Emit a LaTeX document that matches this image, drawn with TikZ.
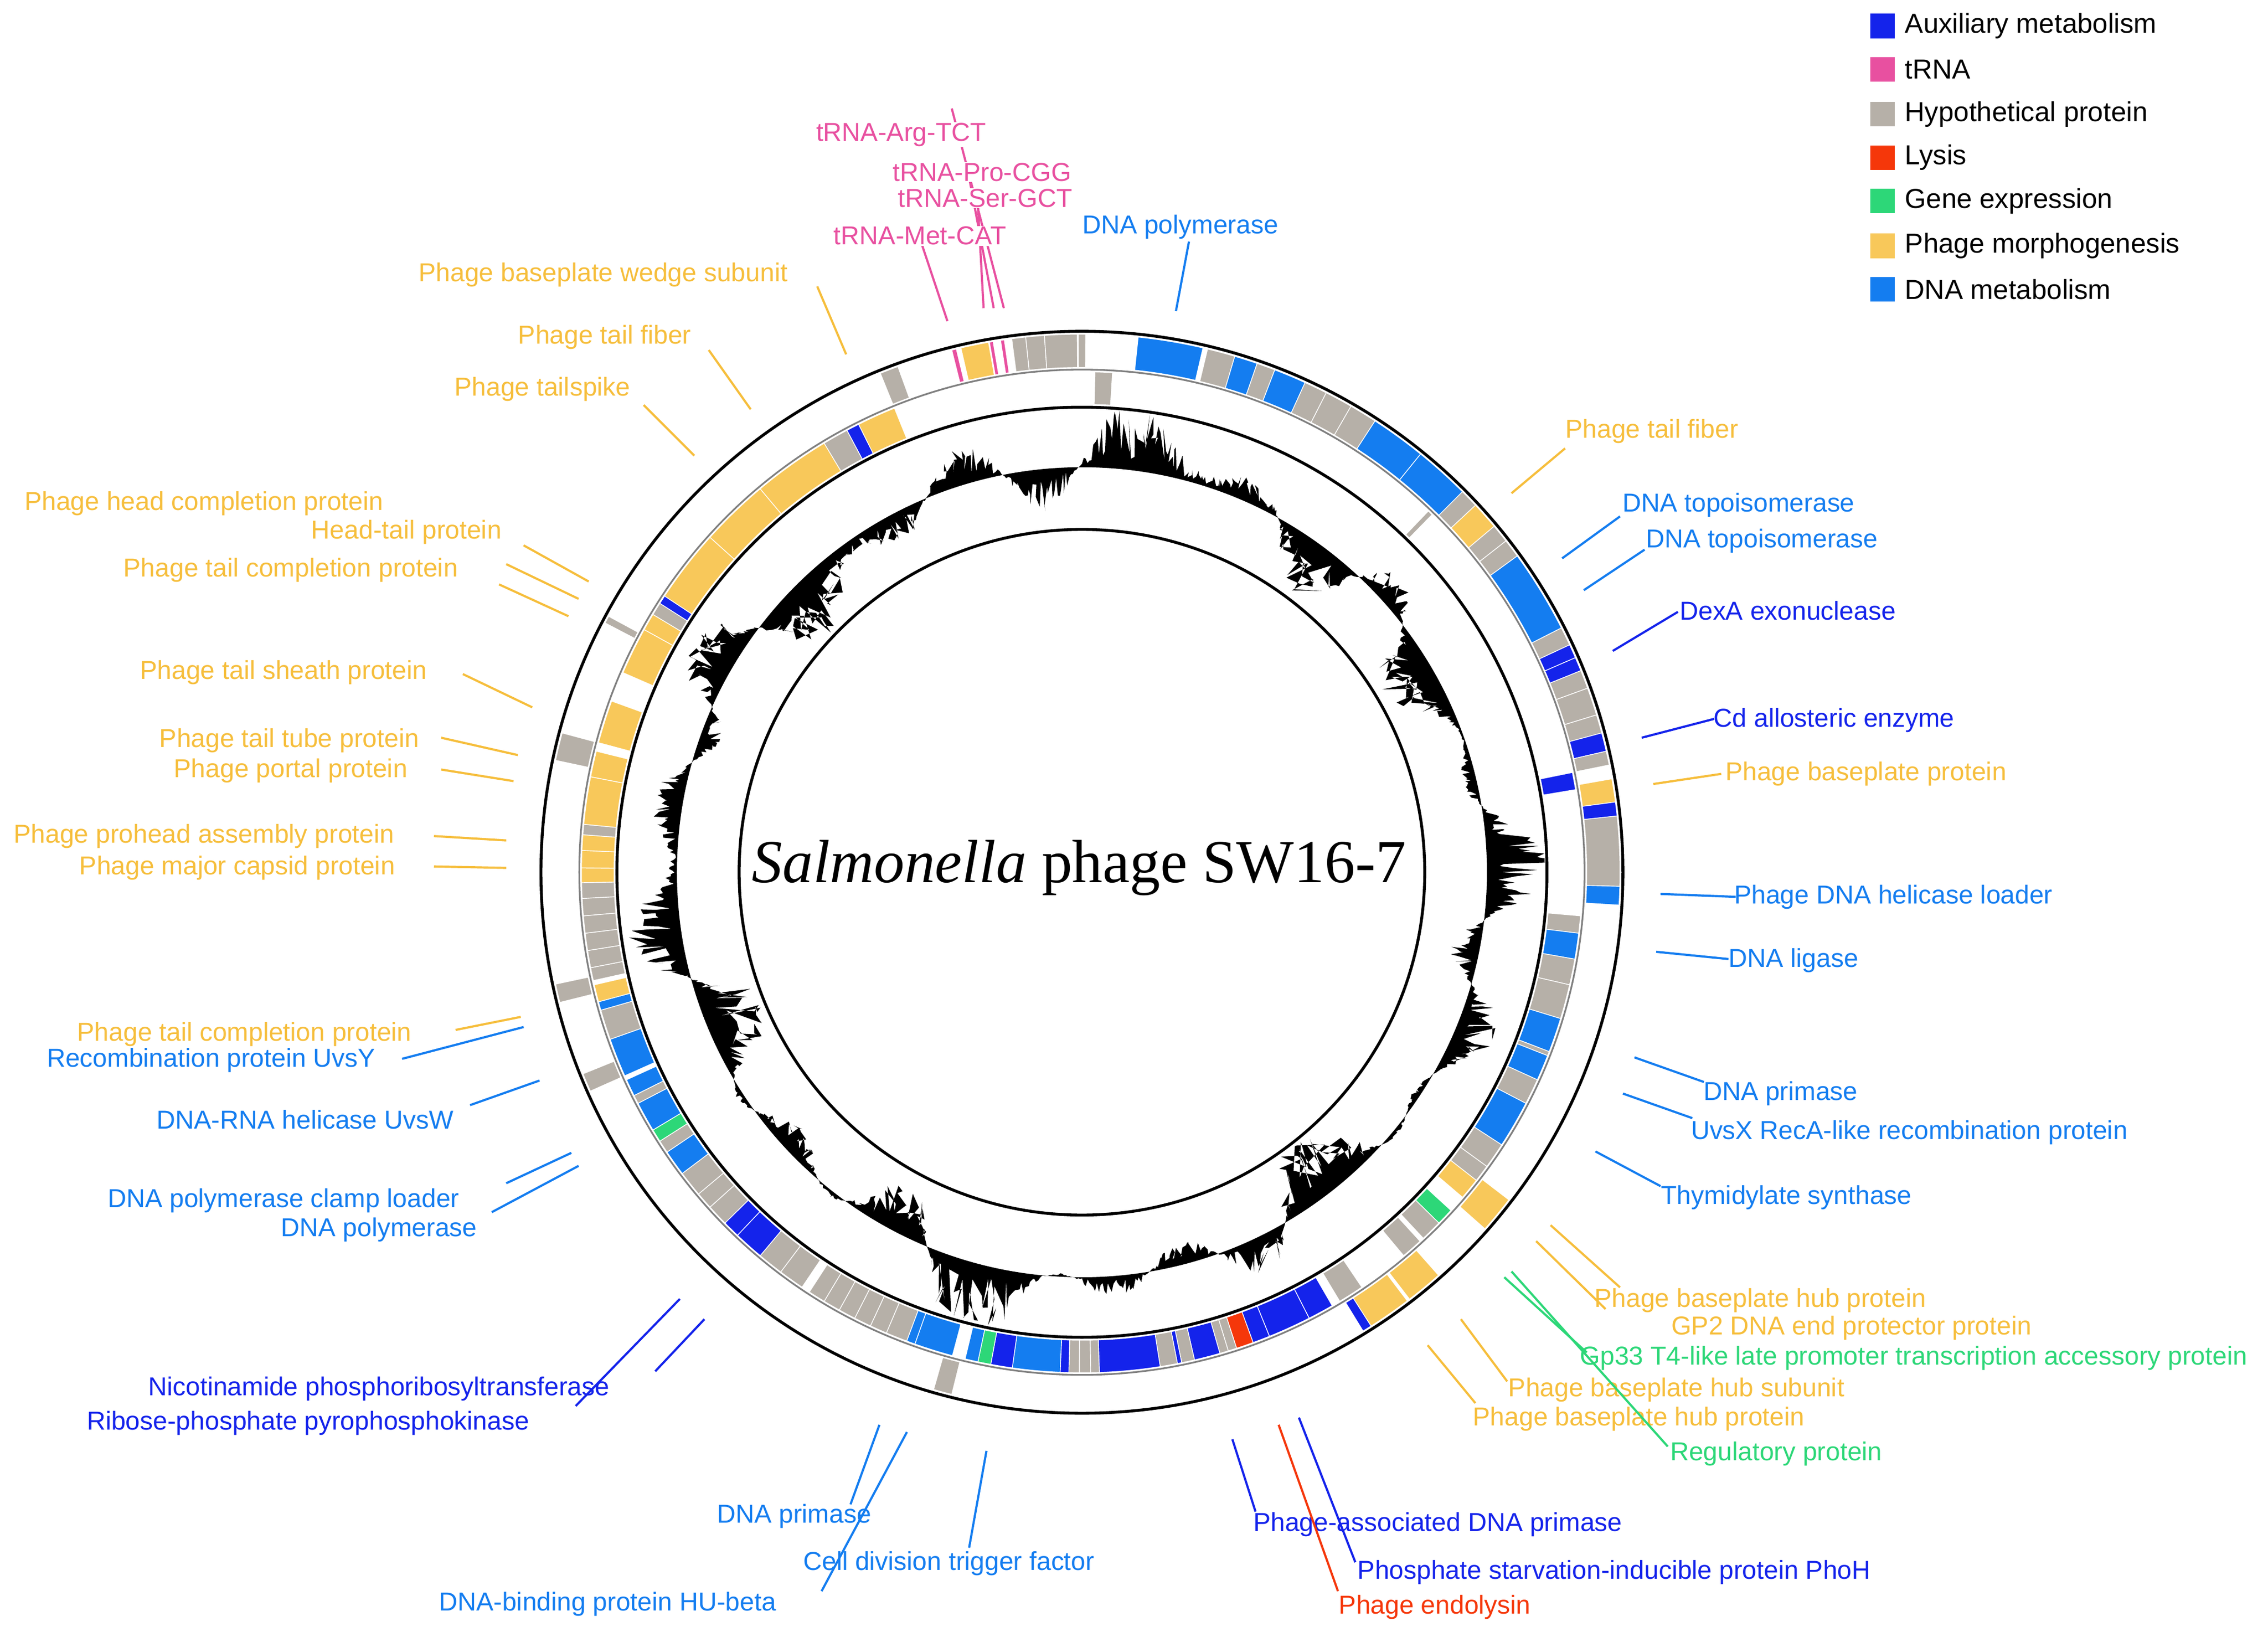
\documentclass[tikz,border=0pt]{standalone}
\usepackage{fontspec}
\setmainfont{Liberation Sans}
\newfontfamily\serifT{Liberation Serif}
\definecolor{aux}{RGB}{20,35,235}
\definecolor{trna}{RGB}{232,80,160}
\definecolor{hyp}{RGB}{182,176,168}
\definecolor{lys}{RGB}{245,55,10}
\definecolor{gex}{RGB}{45,215,120}
\definecolor{mor}{RGB}{248,200,90}
\definecolor{morT}{RGB}{246,190,60}
\definecolor{dna}{RGB}{20,125,240}
\tikzset{
  leader/.style={line width=1.5mm},
  lbl/.style={font=\fontsize{51}{56}\selectfont, inner sep=0.5mm},
  tlbl/.style={lbl, fill=white},
  legtxt/.style={font=\fontsize{54}{60}\selectfont, anchor=west, inner sep=0},
  legbox/.style={minimum size=17mm, inner sep=0},
}
\newcommand\gO[3]{\fill[#3,draw=white,line width=0.5mm] ({#1-90}:349) arc[start angle={#1-90},end angle={#2-90},radius=349] -- ({#2-90}:372) arc[start angle={#2-90},end angle={#1-90},radius=372] -- cycle;}
\newcommand\gI[3]{\fill[#3,draw=white,line width=0.5mm] ({#1-90}:323.5) arc[start angle={#1-90},end angle={#2-90},radius=323.5] -- ({#2-90}:346) arc[start angle={#2-90},end angle={#1-90},radius=346] -- cycle;}
\newcommand\lab[6]{\coordinate (#1a) at #3; \coordinate (#1b) at #4; \draw[leader,#2] (#1a) -- (#1b); \node[lbl,text=#2] (#1) at #5 {#6};}
\begin{document}
\begin{tikzpicture}[x=1mm,y=-1mm]
\useasboundingbox (0,0) rectangle (1568,1131.7);
\begin{scope}[shift={(748,603)}]
% GC skew
\pgfmathsetseed{7}
\fill[black,even odd rule] (0,0) circle[radius=280]
  plot[domain=0:359.7,samples=1400,variable=\t] ({\t-90}:{280+max(-40,min(40,(38*sin(7*\t+10)*sin(3*\t+40)+22*sin(17*\t))*(0.15+0.85*rnd)))}) -- cycle;
\draw[line width=2mm] (0,0) circle[radius=374];
\draw[line width=2mm] (0,0) circle[radius=321.5];
\draw[line width=2mm] (0,0) circle[radius=237];
\draw[line width=1.2mm, gray] (0,0) circle[radius=347.5];
% outer ring
\gO{346.0}{346.5}{trna}\gO{347}{350}{mor}\gO{350.1}{350.5}{trna}\gO{351.3}{351.7}{trna}
\gO{352.5}{354}{hyp}\gO{354}{356}{hyp}\gO{356}{359.5}{hyp}\gO{359.6}{360.4}{hyp}
\gO{6}{13}{dna}\gO{13.5}{16.5}{hyp}\gO{16.5}{19}{dna}\gO{19}{21}{hyp}\gO{21}{24.5}{dna}
\gO{24.5}{27}{hyp}\gO{27}{30}{hyp}\gO{30}{33}{hyp}\gO{33}{39}{dna}\gO{39}{45}{dna}
\gO{45}{47}{hyp}\gO{47}{50}{mor}\gO{50}{52}{hyp}\gO{52}{54}{hyp}\gO{54}{63}{dna}
\gO{63}{65}{hyp}\gO{65}{66.5}{aux}\gO{66.5}{68}{aux}\gO{68}{70}{hyp}\gO{70}{73}{hyp}\gO{73}{75}{hyp}
\gO{75}{77}{aux}\gO{77}{78.5}{hyp}\gO{80}{82.5}{mor}\gO{82.5}{84}{aux}\gO{84}{91.5}{hyp}\gO{91.5}{93.5}{dna}
\gO{127.5}{131.5}{mor}\gO{138.5}{142.5}{mor}\gO{142.8}{147.5}{mor}\gO{147.5}{148.5}{aux}
\gO{194}{196}{hyp}\gO{246}{248}{hyp}\gO{256}{258}{hyp}\gO{282}{285}{hyp}\gO{297.6}{298.4}{hyp}\gO{338}{340}{hyp}
% inner ring
\gI{1.5}{3.5}{hyp}\gI{43.8}{44.4}{hyp}\gI{78.5}{80.5}{aux}
\gI{95}{97}{hyp}\gI{97}{100}{dna}\gI{100}{103}{hyp}\gI{103}{107}{hyp}\gI{107}{111}{dna}\gI{111}{111.5}{hyp}
\gI{111.5}{114.5}{dna}\gI{114.5}{117.5}{hyp}\gI{117.5}{123}{dna}\gI{123}{126}{hyp}\gI{126}{128}{hyp}\gI{128}{130.5}{mor}
\gI{132.5}{134.5}{gex}\gI{134.5}{137}{hyp}\gI{137.5}{140}{hyp}
\gI{146}{149}{hyp}\gI{150}{153}{aux}\gI{153}{158}{aux}\gI{158}{160}{aux}\gI{160}{162}{lys}\gI{162}{163}{hyp}\gI{163}{164}{hyp}
\gI{164}{167}{aux}\gI{167}{168.5}{hyp}\gI{168.5}{169}{aux}\gI{169}{171}{hyp}\gI{171}{178}{aux}\gI{178}{179}{hyp}\gI{179}{180.3}{hyp}
\gI{180.3}{181.5}{hyp}\gI{181.5}{182.5}{aux}\gI{182.5}{188}{dna}\gI{188}{190.5}{aux}\gI{190.5}{192}{gex}\gI{192}{193.5}{dna}
\gI{195}{199.5}{dna}\gI{199.5}{200.5}{dna}\gI{200.5}{203}{hyp}\gI{203}{205}{hyp}\gI{205}{207}{hyp}\gI{207}{209}{hyp}\gI{209}{211}{hyp}\gI{211}{213}{hyp}
\gI{214}{217}{hyp}\gI{217}{220}{hyp}\gI{220}{223.5}{aux}\gI{223.5}{225.5}{aux}\gI{225.5}{228}{hyp}\gI{228}{230}{hyp}\gI{230}{233}{hyp}
\gI{233}{236}{dna}\gI{236}{237.5}{hyp}\gI{237.5}{239}{gex}\gI{239}{242.5}{dna}\gI{242.5}{243.5}{hyp}\gI{243.5}{245.5}{dna}
\gI{246}{250.5}{dna}\gI{250.5}{254}{hyp}\gI{254}{255}{dna}\gI{255}{257}{mor}\gI{257.5}{259}{hyp}\gI{259}{261}{hyp}\gI{261}{263}{hyp}
\gI{263}{265}{hyp}\gI{265}{267}{hyp}\gI{267}{268.8}{hyp}\gI{268.8}{270.5}{mor}\gI{270.5}{272.5}{mor}\gI{272.5}{274.3}{mor}\gI{274.3}{275.5}{hyp}
\gI{275.5}{281}{mor}\gI{281}{284}{mor}\gI{285}{290}{mor}\gI{293.5}{299}{mor}\gI{299}{301}{mor}\gI{301}{302.5}{hyp}\gI{302.5}{303.5}{aux}
\gI{303.5}{312}{mor}\gI{312}{320}{mor}\gI{320}{329}{mor}\gI{329}{332}{hyp}\gI{332}{333.5}{aux}\gI{333.5}{338}{mor}
\end{scope}
\node (title) at (746,600) {\serifT\fontsize{120}{130}\selectfont\textit{Salmonella} phage SW16-7};
% tRNA labels
\coordinate (ta1) at (658,75); \coordinate (ta2) at (694,213); \draw[leader,trna] (ta1)--(ta2);
\coordinate (tb1) at (668,112); \coordinate (tb2) at (687,213); \draw[leader,trna] (tb1)--(tb2);
\coordinate (tc1) at (676,140); \coordinate (tc2) at (680,213); \draw[leader,trna] (tc1)--(tc2);
\coordinate (td1) at (636,165); \coordinate (td2) at (655,222); \draw[leader,trna] (td1)--(td2);
\node[tlbl,text=trna] (tArg) at (623,93) {tRNA-Arg-TCT};
\node[tlbl,text=trna] (tPro) at (679,119) {tRNA-Pro-CGG};
\node[tlbl,text=trna] (tSer) at (681,137) {tRNA-Ser-GCT};
\node[tlbl,text=trna] (tMet) at (636,163) {tRNA-Met-CAT};
% labels
\lab{l1}{dna}{(822,167)}{(813,215)}{(816,157)}{DNA polymerase}
\lab{l2}{morT}{(565,198)}{(585,245)}{(417,190)}{Phage baseplate wedge subunit}
\lab{l3}{morT}{(490,242)}{(519,283)}{(418,233)}{Phage tail fiber}
\lab{l4}{morT}{(445,280)}{(480,315)}{(375,269)}{Phage tailspike}
\lab{l5}{morT}{(1082,310)}{(1045,341)}{(1142,298)}{Phage tail fiber}
\lab{l6}{morT}{(362,377)}{(407,402)}{(141,348)}{Phage head completion protein}
\lab{l7}{morT}{(350,390)}{(400,414)}{(281,368)}{Head-tail protein}
\lab{l8}{morT}{(345,404)}{(393,426)}{(201,394)}{Phage tail completion protein}
\lab{l9}{dna}{(1120,357)}{(1080,386)}{(1202,349)}{DNA topoisomerase}
\lab{l10}{dna}{(1137,380)}{(1095,408)}{(1218,374)}{DNA topoisomerase}
\lab{l11}{aux}{(1160,423)}{(1115,450)}{(1236,422)}{DexA exonuclease}
\lab{l12}{aux}{(1185,497)}{(1135,510)}{(1268,498)}{Cd allosteric enzyme}
\lab{l13}{morT}{(1190,535)}{(1143,542)}{(1290,535)}{Phage baseplate protein}
\lab{l14}{morT}{(320,466)}{(368,489)}{(196,465)}{Phage tail sheath protein}
\lab{l15}{morT}{(305,510)}{(358,522)}{(200,512)}{Phage tail tube protein}
\lab{l16}{morT}{(305,532)}{(355,540)}{(201,533)}{Phage portal protein}
\lab{l17}{morT}{(300,578)}{(350,581)}{(141,578)}{Phage prohead assembly protein}
\lab{l18}{morT}{(300,599)}{(350,600)}{(164,600)}{Phage major capsid protein}
\lab{l19}{dna}{(1148,618)}{(1200,620)}{(1309,620)}{Phage DNA helicase loader}
\lab{l20}{dna}{(1145,658)}{(1195,663)}{(1240,664)}{DNA ligase}
\lab{l21}{morT}{(315,712)}{(360,703)}{(169,715)}{Phage tail completion protein}
\lab{l22}{dna}{(278,732)}{(362,710)}{(146,733)}{Recombination protein UvsY}
\lab{l23}{dna}{(325,764)}{(373,747)}{(211,774)}{DNA-RNA helicase UvsW}
\lab{l24}{dna}{(1130,731)}{(1178,748)}{(1231,756)}{DNA primase}
\lab{l25}{dna}{(1122,756)}{(1170,773)}{(1320,783)}{UvsX RecA-like recombination protein}
\lab{l26}{dna}{(1103,796)}{(1148,820)}{(1235,828)}{Thymidylate synthase}
\lab{l27}{dna}{(350,818)}{(395,797)}{(196,830)}{DNA polymerase clamp loader}
\lab{l28}{dna}{(340,838)}{(400,806)}{(262,850)}{DNA polymerase}
\lab{l29}{morT}{(1072,847)}{(1120,890)}{(1217,899)}{Phage baseplate hub protein}
\lab{l30}{morT}{(1062,858)}{(1110,905)}{(1280,918)}{GP2 DNA end protector protein}
\lab{l31}{gex}{(1040,883)}{(1097,935)}{(1323,939)}{Gp33 T4-like late promoter transcription accessory protein}
\lab{l32}{morT}{(1010,912)}{(1042,955)}{(1159,961)}{Phage baseplate hub subunit}
\lab{l33}{morT}{(987,930)}{(1020,970)}{(1133,981)}{Phage baseplate hub protein}
\lab{l34}{gex}{(1045,879)}{(1153,1000)}{(1228,1005)}{Regulatory protein}
\lab{l35}{aux}{(487,912)}{(453,948)}{(262,960)}{Nicotinamide phosphoribosyltransferase}
\lab{l36}{aux}{(470,898)}{(398,972)}{(213,984)}{Ribose-phosphate pyrophosphokinase}
\lab{l37}{dna}{(608,985)}{(588,1040)}{(549,1048)}{DNA primase}
\lab{l38}{dna}{(682,1003)}{(670,1070)}{(656,1081)}{Cell division trigger factor}
\lab{l39}{dna}{(627,990)}{(568,1100)}{(420,1109)}{DNA-binding protein HU-beta}
\lab{l40}{aux}{(852,995)}{(868,1045)}{(994,1054)}{Phage-associated DNA primase}
\lab{l41}{aux}{(898,980)}{(937,1080)}{(1116,1087)}{Phosphate starvation-inducible protein PhoH}
\lab{l42}{lys}{(884,985)}{(925,1100)}{(992,1111)}{Phage endolysin}
% legend
\node[legbox,fill=aux] (k1) at (1301.5,18) {}; \node[legtxt] (t1) at (1317,18) {Auxiliary metabolism};
\node[legbox,fill=trna] (k2) at (1301.5,48) {}; \node[legtxt] (t2) at (1317,48) {tRNA};
\node[legbox,fill=hyp] (k3) at (1301.5,79) {}; \node[legtxt] (t3) at (1317,79) {Hypothetical protein};
\node[legbox,fill=lys] (k4) at (1301.5,109) {}; \node[legtxt] (t4) at (1317,109) {Lysis};
\node[legbox,fill=gex] (k5) at (1301.5,139) {}; \node[legtxt] (t5) at (1317,139) {Gene expression};
\node[legbox,fill=mor] (k6) at (1301.5,170) {}; \node[legtxt] (t6) at (1317,170) {Phage morphogenesis};
\node[legbox,fill=dna] (k7) at (1301.5,200) {}; \node[legtxt] (t7) at (1317,200) {DNA metabolism};
\end{tikzpicture}
\end{document}
